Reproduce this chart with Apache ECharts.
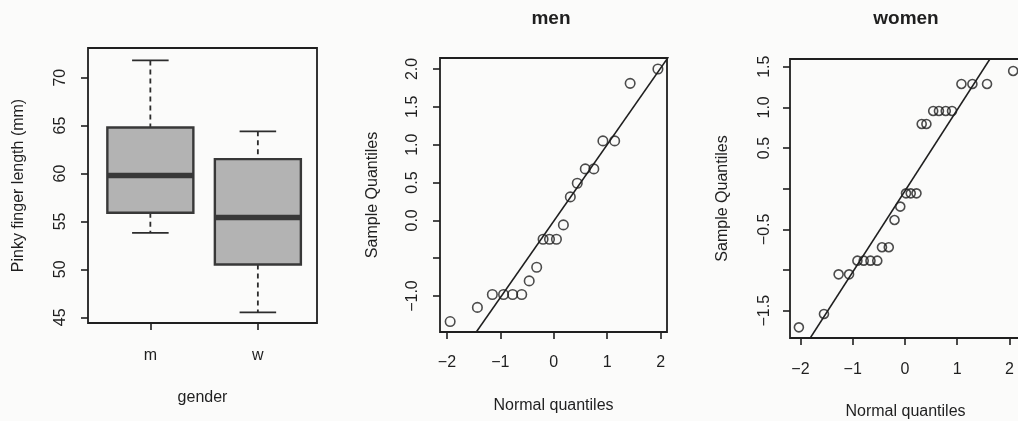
<!DOCTYPE html>
<html>
<head>
<meta charset="utf-8">
<script src="https://cdn.jsdelivr.net/npm/echarts@6/dist/echarts.min.js"></script>
<style>
html,body{margin:0;padding:0;background:#fbfbfa;}
#chart{width:1018px;height:421px;}
</style>
</head>
<body>
<div id="chart"></div>
<script>
// ---------- data ----------
const boxCategories = ['m', 'w'];
// [lower whisker, Q1, median, Q3, upper whisker]
const boxStatsM = [53.8, 55.9, 59.8, 64.8, 71.8];
const boxStatsW = [45.5, 50.5, 55.4, 61.5, 64.4];
const boxYTicks = [45, 50, 55, 60, 65, 70];

const menTheoretical = [-1.94, -1.43, -1.15, -0.94, -0.77, -0.60, -0.46, -0.32, -0.20, -0.08,
                        0.05, 0.18, 0.31, 0.44, 0.59, 0.75, 0.92, 1.14, 1.43, 1.95];
const menSample = [-1.337, -1.15, -0.98, -0.98, -0.98, -0.98, -0.80, -0.62, -0.25, -0.25,
                   -0.25, -0.06, 0.31, 0.49, 0.68, 0.68, 1.05, 1.05, 1.81, 2.0];
const menLineX = [-2.3, 2.3];
const menLineY = [-2.333, 2.313];

const womenTheoretical = [-2.03, -1.55, -1.27, -1.07, -0.91, -0.79, -0.66, -0.53, -0.44, -0.31,
                          -0.20, -0.09, 0.02, 0.11, 0.22, 0.32, 0.41, 0.54, 0.65, 0.78,
                          0.90, 1.08, 1.29, 1.57, 2.07];
const womenSample = [-1.705, -1.54, -1.053, -1.053, -0.885, -0.885, -0.885, -0.885, -0.72, -0.72,
                     -0.385, -0.22, -0.057, -0.057, -0.057, 0.796, 0.796, 0.956, 0.956, 0.956,
                     0.956, 1.288, 1.288, 1.288, 1.448];
const womenLineX = [-2.3, 2.3];
const womenLineY = [-2.322, 2.268];

const qqXTicks = [-2, -1, 0, 1, 2];
const menYTicks = [-1, -0.5, 0, 0.5, 1, 1.5, 2];
const menYLabels = [-1, 0, 0.5, 1, 1.5, 2];
const womenYTicks = [-1.5, -1, -0.5, 0, 0.5, 1, 1.5];
const womenYLabels = [-1.5, -0.5, 0.5, 1, 1.5];

// ---------- style ----------
const INK = '#1f1f1f';
const FONT = 'Liberation Sans, Arial, Helvetica, sans-serif';
const FS = 16;

function fmtNum(v, dec) {
  const s = Math.abs(v).toFixed(dec);
  return (v < 0 ? '\u2212' : '') + s;
}

function lab(values, fmt, margin, rotate) {
  return { show: true, customValues: values, formatter: fmt, rotate: rotate || 0, margin: margin,
           color: INK, fontSize: FS, fontFamily: FONT };
}

function valueAxis(gridIndex, min, max, ticks, label, extra) {
  return Object.assign({
    type: 'value', gridIndex, min, max,
    axisLine: { show: false, onZero: false },
    axisTick: { show: true, inside: false, length: 7, customValues: ticks,
                lineStyle: { color: INK, width: 1.6 } },
    axisLabel: label,
    splitLine: { show: false },
    nameLocation: 'middle',
    nameTextStyle: { color: INK, fontSize: FS, fontFamily: FONT }
  }, extra || {});
}

const gridBase = { show: true, borderColor: INK, borderWidth: 1.8, backgroundColor: 'transparent',
                   containLabel: false, outerBoundsMode: 'none' };

const chart = echarts.init(document.getElementById('chart'), null, { renderer: 'canvas' });

const catFmt = v => boxCategories[Math.round(v) - 1];
const intFmt = v => fmtNum(v, 0);
const decFmt = v => fmtNum(v, 1);

const option = {
  animation: false,
  backgroundColor: '#fbfbfa',
  graphic: [
    { type: 'text', x: 551, y: 19, style: { text: 'men', fill: INK, font: 'bold 19px ' + FONT, textAlign: 'center', textVerticalAlign: 'middle' } },
    { type: 'text', x: 906, y: 19, style: { text: 'women', fill: INK, font: 'bold 19px ' + FONT, textAlign: 'center', textVerticalAlign: 'middle' } }
  ],
  grid: [
    Object.assign({ left: 88, top: 48, width: 229, height: 275 }, gridBase),
    Object.assign({ left: 440, top: 58, width: 227, height: 274 }, gridBase),
    Object.assign({ left: 790, top: 59, width: 231, height: 279 }, gridBase)
  ],
  xAxis: [
    valueAxis(0, 0.42, 2.55, [1, 2], lab([1, 2], catFmt, 25), { name: 'gender', nameGap: 67 }),
    valueAxis(1, -2.13, 2.12, qqXTicks, lab(qqXTicks, intFmt, 23), { name: 'Normal quantiles', nameGap: 66 }),
    valueAxis(2, -2.2, 2.22, qqXTicks, lab(qqXTicks, intFmt, 24), { name: 'Normal quantiles', nameGap: 66 })
  ],
  yAxis: [
    valueAxis(0, 44.4, 73.1, boxYTicks, lab(boxYTicks, v => String(v), 19, 90), { name: 'Pinky finger length (mm)', nameGap: 61 }),
    valueAxis(1, -1.475, 2.145, menYTicks, lab(menYLabels, decFmt, 19, 90), { name: 'Sample Quantiles', nameGap: 59 }),
    valueAxis(2, -1.836, 1.595, womenYTicks, lab(womenYLabels, decFmt, 17, 90), { name: 'Sample Quantiles', nameGap: 59 })
  ],
  series: [
    {
      type: 'custom',
      xAxisIndex: 0, yAxisIndex: 0,
      encode: { x: 0, y: [1, 2, 3, 4, 5] },
      data: [[1].concat(boxStatsM), [2].concat(boxStatsW)],
      renderItem: function (params, api) {
        const x = api.value(0);
        const lo = api.value(1), q1 = api.value(2), med = api.value(3), q3 = api.value(4), hi = api.value(5);
        const half = 0.4, cap = 0.17;
        const c = (a, b) => api.coord([a, b]);
        const tl = c(x - half, q3);
        const br = c(x + half, q1);
        const dashed = { stroke: '#2c2c2c', lineWidth: 1.8, lineDash: [5, 4] };
        const solid = { stroke: '#2c2c2c', lineWidth: 1.8 };
        const pHi = c(x, hi), pQ3 = c(x, q3), pQ1 = c(x, q1), pLo = c(x, lo);
        const capHiL = c(x - cap, hi), capHiR = c(x + cap, hi);
        const capLoL = c(x - cap, lo), capLoR = c(x + cap, lo);
        const mL = c(x - half, med), mR = c(x + half, med);
        return {
          type: 'group',
          children: [
            { type: 'line', shape: { x1: pHi[0], y1: pHi[1], x2: pQ3[0], y2: pQ3[1] }, style: dashed },
            { type: 'line', shape: { x1: pQ1[0], y1: pQ1[1], x2: pLo[0], y2: pLo[1] }, style: dashed },
            { type: 'line', shape: { x1: capHiL[0], y1: capHiL[1], x2: capHiR[0], y2: capHiR[1] }, style: solid },
            { type: 'line', shape: { x1: capLoL[0], y1: capLoL[1], x2: capLoR[0], y2: capLoR[1] }, style: solid },
            { type: 'rect', shape: { x: tl[0], y: tl[1], width: br[0] - tl[0], height: br[1] - tl[1] },
              style: { fill: '#b3b3b3', stroke: '#383838', lineWidth: 2.4 } },
            { type: 'line', shape: { x1: mL[0], y1: mL[1], x2: mR[0], y2: mR[1] },
              style: { stroke: '#383838', lineWidth: 5.5 } }
          ]
        };
      }
    },
    {
      type: 'scatter', xAxisIndex: 1, yAxisIndex: 1,
      data: menTheoretical.map((v, i) => [v, menSample[i]]),
      symbol: 'circle', symbolSize: 9.5,
      itemStyle: { color: 'rgba(0,0,0,0)', borderColor: INK, borderWidth: 1.6 },
      z: 3
    },
    {
      type: 'line', xAxisIndex: 1, yAxisIndex: 1, clip: true,
      data: menLineX.map((v, i) => [v, menLineY[i]]),
      showSymbol: false, symbol: 'none',
      lineStyle: { color: INK, width: 1.6 }
    },
    {
      type: 'scatter', xAxisIndex: 2, yAxisIndex: 2,
      data: womenTheoretical.map((v, i) => [v, womenSample[i]]),
      symbol: 'circle', symbolSize: 9,
      itemStyle: { color: 'rgba(0,0,0,0)', borderColor: INK, borderWidth: 1.6 },
      z: 3
    },
    {
      type: 'line', xAxisIndex: 2, yAxisIndex: 2, clip: true,
      data: womenLineX.map((v, i) => [v, womenLineY[i]]),
      showSymbol: false, symbol: 'none',
      lineStyle: { color: INK, width: 1.6 }
    }
  ]
};
chart.setOption(option);
</script>
</body>
</html>
